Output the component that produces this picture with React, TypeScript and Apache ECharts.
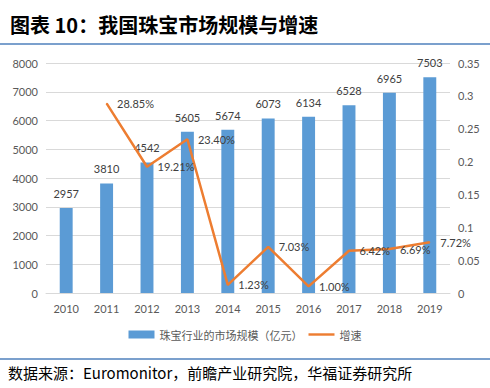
import React, { useEffect, useRef } from "react";
import * as echarts from "echarts";

const years = ["2010", "2011", "2012", "2013", "2014", "2015", "2016", "2017", "2018", "2019"];
const marketSize = [2957, 3810, 4542, 5605, 5674, 6073, 6134, 6528, 6965, 7503];
const growth = [null, 0.2885, 0.1921, 0.234, 0.0123, 0.0703, 0.01, 0.0642, 0.0669, 0.0772];
const barName = "珠宝行业的市场规模（亿元）";
const lineName = "增速";
const titleText = "图表 10：我国珠宝市场规模与增速";
const sourceText = "数据来源：Euromonitor，前瞻产业研究院，华福证券研究所";

const numFont = "Lato, 'Noto Sans CJK SC', sans-serif";
const cjkFont = "'Noto Sans CJK SC', sans-serif";

export default function App() {
  const ref = useRef<HTMLDivElement>(null);
  useEffect(() => {
    if (!ref.current) return;
    const chart = echarts.init(ref.current, null, { renderer: "svg" });
    chart.setOption({
      animation: false,
      backgroundColor: "#ffffff",
      grid: { left: 46, right: 40, top: 63, bottom: 95 },
      legend: {
        bottom: 43,
        left: "center",
        itemWidth: 26,
        itemHeight: 8,
        itemGap: 6,
        textStyle: { color: "#595959", fontSize: 11, fontFamily: cjkFont },
        data: [
          { name: barName, icon: "rect" },
          { name: lineName, icon: "path://M0,0 L32,0 L32,3 L0,3 Z" },
        ],
      },
      xAxis: {
        type: "category",
        data: years,
        axisLine: { show: true, lineStyle: { color: "#d9d9d9" } },
        axisTick: { show: false },
        axisLabel: { color: "#595959", fontSize: 11, fontFamily: numFont, margin: 10 },
      },
      yAxis: [
        {
          type: "value",
          min: 0,
          max: 8000,
          interval: 1000,
          axisLine: { show: false },
          axisTick: { show: false },
          splitLine: { lineStyle: { color: "#d9d9d9" } },
          axisLabel: {
            color: "#595959",
            fontSize: 11,
            fontFamily: numFont,
            margin: 8,
            formatter: (v: number) => String(v),
          },
        },
        {
          type: "value",
          min: 0,
          max: 0.35,
          interval: 0.05,
          axisLine: { show: false },
          axisTick: { show: false },
          splitLine: { show: false },
          axisLabel: {
            color: "#595959",
            fontSize: 11,
            fontFamily: numFont,
            margin: 8,
            formatter: (v: number) => String(Math.round(v * 100) / 100),
          },
        },
      ],
      series: [
        {
          name: barName,
          type: "bar",
          data: marketSize,
          barWidth: "32%",
          itemStyle: { color: "#5b9bd5" },
          label: {
            show: true,
            position: "top",
            distance: 9,
            color: "#404040",
            fontSize: 11,
            fontFamily: numFont,
          },
        },
        {
          name: lineName,
          type: "line",
          yAxisIndex: 1,
          data: growth,
          symbol: "circle",
          symbolSize: 1,
          itemStyle: { color: "#ed7d31" },
          lineStyle: { color: "#ed7d31", width: 2.5 },
          label: {
            show: true,
            position: "right",
            distance: 10,
            color: "#404040",
            fontSize: 11,
            fontFamily: numFont,
            formatter: (p: any) => (p.value * 100).toFixed(2) + "%",
          },
        },
      ],
      graphic: [
        {
          type: "text",
          left: 10,
          top: 14,
          style: {
            text: titleText,
            fontSize: 20,
            fontWeight: "bold",
            fontFamily: cjkFont,
            fill: "#000000",
          },
        },
        {
          type: "line",
          shape: { x1: 0, y1: 44, x2: 490, y2: 44 },
          style: { stroke: "#4f81bd", lineWidth: 1.5 },
        },
        {
          type: "line",
          shape: { x1: 0, y1: 359, x2: 490, y2: 359 },
          style: { stroke: "#4f81bd", lineWidth: 1.5 },
        },
        {
          type: "text",
          left: 8,
          top: 365,
          style: {
            text: sourceText,
            fontSize: 15,
            fontFamily: cjkFont,
            fill: "#000000",
          },
        },
      ],
    });
    return () => chart.dispose();
  }, []);
  return (
    <div
      ref={ref}
      style={{ position: "fixed", left: 0, top: 0, width: 490, height: 388 }}
    />
  );
}
